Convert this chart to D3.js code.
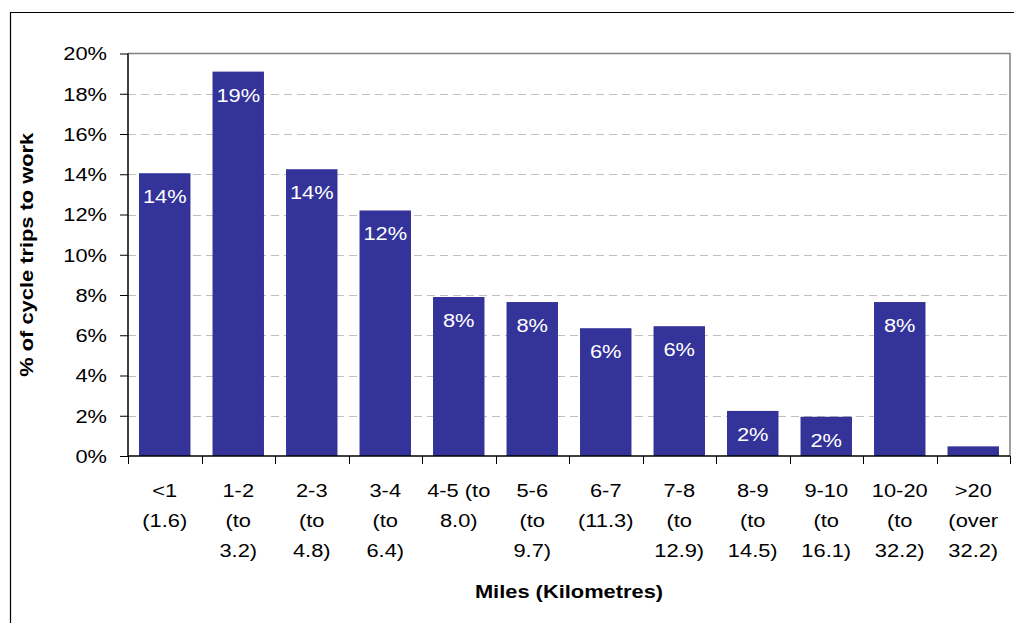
<!DOCTYPE html>
<html>
<head>
<meta charset="utf-8">
<script src="https://cdn.jsdelivr.net/npm/d3@7"></script>
<style>
  body { margin: 0; background: #fff; }
  svg { display: block; font-family: "Liberation Sans", Arial, sans-serif; }
</style>
</head>
<body>
<svg id="chart" width="1014" height="623"></svg>
<script>
// chart data
const categories = ["<1\n(1.6)", "1-2\n(to\n3.2)", "2-3\n(to\n4.8)", "3-4\n(to\n6.4)", "4-5 (to\n8.0)", "5-6\n(to\n9.7)",
    "6-7\n(11.3)", "7-8\n(to\n12.9)", "8-9\n(to\n14.5)", "9-10\n(to\n16.1)", "10-20\n(to\n32.2)", ">20\n(over\n32.2)"];
const values = [14.05, 19.1, 14.25, 12.2, 7.9, 7.65, 6.35, 6.45, 2.24, 1.95, 7.65, 0.48];
const yTicks = [0, 2, 4, 6, 8, 10, 12, 14, 16, 18, 20];

const svg = d3.select("#chart");
const plotLeft = 128, plotRight = 1010, plotTop = 53.5, plotBottom = 456;
const stretch = 1.15; // the original text is a bit wider than Arial

// text helper, stretched horizontally around its anchor
function addText(parent, x, y, str, anchor, rotate) {
    return parent.append("text")
        .attr("transform", `translate(${x},${y})` + (rotate ? ` rotate(${rotate})` : "") + ` scale(${stretch},1)`)
        .attr("text-anchor", anchor)
        .style("font-size", "19px")
        .text(str);
}

// outer frame
svg.append("path")
    .attr("d", "M10.5,623 V12.5 H1014")
    .attr("fill", "none")
    .attr("stroke", "#000")
    .attr("stroke-width", 1.2);

const x = d3.scaleBand()
    .domain(d3.range(categories.length))
    .range([plotLeft, plotRight])
    .paddingInner(0.3)
    .paddingOuter(0.15);

const y = d3.scaleLinear().domain([0, 20]).range([plotBottom, plotTop]);

// gridlines
svg.append("g")
    .selectAll("line")
    .data(yTicks.filter(d => d > 0 && d < 20))
    .join("line")
    .attr("x1", plotLeft)
    .attr("x2", plotRight)
    .attr("y1", d => Math.round(y(d)) + 0.5)
    .attr("y2", d => Math.round(y(d)) + 0.5)
    .attr("stroke", "#c0c0c0")
    .attr("stroke-dasharray", "8,5");

// plot border top/right
svg.append("path")
    .attr("d", `M${plotLeft},${plotTop} H${plotRight} V${plotBottom}`)
    .attr("fill", "none")
    .attr("stroke", "#808080")
    .attr("stroke-width", 1.5);

// bars
svg.append("g")
    .selectAll("rect")
    .data(values)
    .join("rect")
    .attr("x", (d, i) => x(i))
    .attr("y", d => y(d))
    .attr("width", x.bandwidth())
    .attr("height", d => plotBottom - y(d))
    .attr("fill", "#333399");

// bar labels
const labelG = svg.append("g").attr("fill", "#fff");
values.forEach((v, i) => {
    if (v >= 1) addText(labelG, x(i) + x.bandwidth() / 2, y(v) + 30, Math.round(v) + "%", "middle");
});

// y axis
const yAxis = svg.append("g")
    .attr("transform", `translate(${plotLeft},0)`)
    .call(d3.axisLeft(y).tickValues(yTicks).tickFormat("").tickSize(8));
yAxis.select(".domain").attr("stroke", "#000").attr("stroke-width", 1.5).attr("d", `M0,${plotTop}V${plotBottom}`);
yAxis.selectAll(".tick line").attr("stroke", "#000");
const yLabelG = svg.append("g").attr("fill", "#000");
yTicks.forEach(t => addText(yLabelG, 107, y(t) + 6.8, t + "%", "end"));

// x axis: ticks at category boundaries
const boundaries = d3.range(categories.length + 1).map(i => plotLeft + i * (plotRight - plotLeft) / categories.length);
svg.append("line")
    .attr("x1", plotLeft).attr("x2", plotRight)
    .attr("y1", plotBottom).attr("y2", plotBottom)
    .attr("stroke", "#000")
    .attr("stroke-width", 1.5);
svg.append("g")
    .selectAll("line")
    .data(boundaries)
    .join("line")
    .attr("x1", d => Math.round(d) + 0.5)
    .attr("x2", d => Math.round(d) + 0.5)
    .attr("y1", plotBottom)
    .attr("y2", plotBottom + 8)
    .attr("stroke", "#000");

const xLabelG = svg.append("g").attr("fill", "#000");
categories.forEach((c, i) => {
    const t = addText(xLabelG, x(i) + x.bandwidth() / 2, 0, null, "middle");
    t.selectAll("tspan")
        .data(c.split("\n"))
        .join("tspan")
        .attr("x", 0)
        .attr("y", (s, j) => 497 + j * 30)
        .text(s => s);
});

// axis titles
addText(svg, (plotLeft + plotRight) / 2, 598, "Miles (Kilometres)", "middle")
    .style("font-weight", "bold");

addText(svg, 33, (plotTop + plotBottom) / 2, "% of cycle trips to work", "middle", -90)
    .style("font-weight", "bold");
</script>
</body>
</html>
